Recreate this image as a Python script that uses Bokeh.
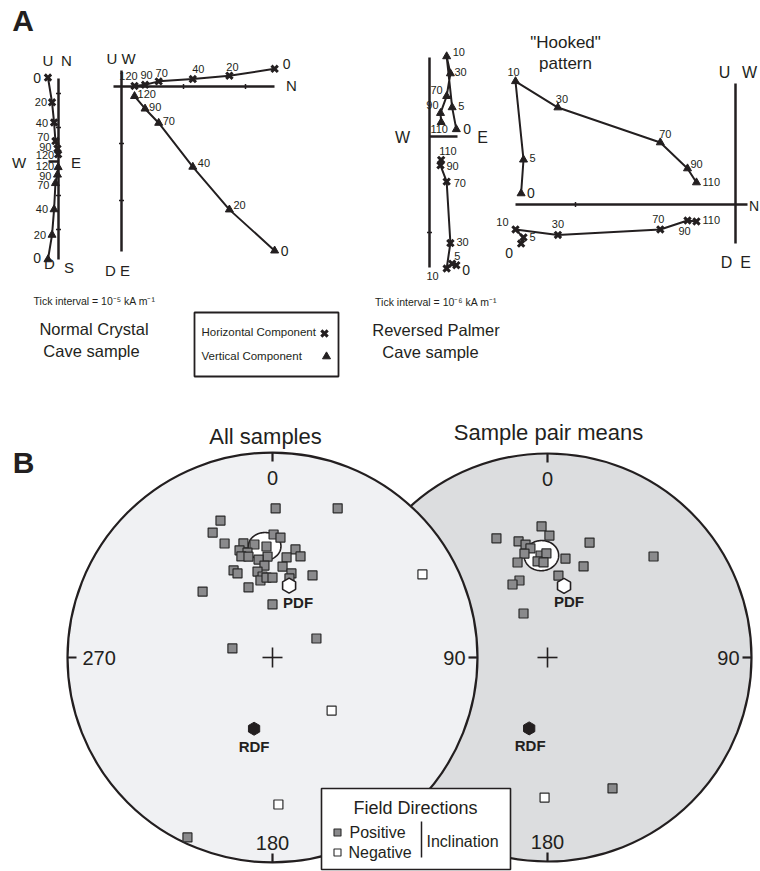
import numpy as np
from bokeh.plotting import figure
from bokeh.models import Range1d
from bokeh.core.properties import value
from bokeh.embed import file_html
from bokeh.resources import INLINE

# ------------------------------------------------------------------ DATA
# Normal Crystal Cave sample: AF steps (mT) and NRM components (tick units, 1e-5 kA/m)
crystal_steps = ["0", "20", "40", "70", "90", "120"]
crystal_north = [2.47, 1.74, 1.15, 0.60, 0.38, 0.21]
crystal_east = [-0.31, -0.19, -0.13, -0.09, -0.03, -0.01]
crystal_up = [-2.88, -2.16, -1.41, -0.64, -0.39, -0.17]

# Reversed Palmer Cave sample (tick units, 1e-6 kA/m)
palmer_steps = ["0", "5", "10", "30", "70", "90", "110"]
palmer_north = [-1.34, -1.325, -1.375, -1.11, -0.47, -0.30, -0.244]
palmer_east = [0.244, 0.206, 0.156, 0.19, 0.156, 0.10, 0.106]
palmer_up = [0.069, 0.28, 0.77, 0.606, 0.3875, 0.225, 0.1375]

# Field directions, all samples (declination, inclination in degrees)
all_pos_dec = [1.2, 23.6, 339.2, 334.4, 337.2, 345.7, 350.9, 342.9, 346.6, 342.9, 346.6,
               0.5, 3.8, 356.9, 357.2, 351.9, 12.0, 15.5, 8.0, 6.3, 355.0, 335.9, 337.4,
               350.1, 353.0, 351.1, 355.7, 0.0, 12.7, 12.1, 26.0, 341.1, 313.3, 0.0,
               282.7, 66.6, 205.3]
all_pos_inc = [28.1, 21.7, 29.3, 32.9, 39.5, 42.1, 43.5, 44.5, 46.3, 47.2, 48.1,
               39.8, 41.0, 44.9, 49.2, 50.1, 45.2, 47.6, 49.2, 53.2, 52.9, 51.6, 53.4,
               55.0, 57.3, 58.8, 57.9, 58.0, 55.4, 57.6, 53.3, 60.4, 51.3, 68.9,
               73.7, 71.0, 3.3]
all_neg_dec = [61.0, 131.9, 177.7]
all_neg_inc = [-17.5, -58.2, -29.0]
all_mean = (355.9, 44.8, 6.0)          # dec, inc, a95

# Sample pair means
pair_pos_dec = [357.4, 0.9, 336.8, 346.0, 349.0, 351.1, 347.5, 342.5, 356.1, 359.4, 354.1,
                357.6, 20.1, 10.3, 21.6, 46.4, 7.6, 340.0, 334.4, 331.4, 153.6]
pair_pos_inc = [35.9, 40.0, 36.6, 41.0, 43.0, 45.0, 46.7, 49.6, 48.5, 47.7, 50.9,
                51.5, 39.8, 49.2, 50.3, 29.0, 56.7, 57.0, 57.4, 70.0, 29.1]
pair_neg_dec = [181.2]
pair_neg_inc = [-31.9]
pair_mean = (356.6, 48.5, 6.4)

pdf_dir = (13.0, 60.5)      # present dipole field
rdf_dir = (194.5, -60.6)    # reversed dipole field

# ------------------------------------------------------------------ FIGURE
W, H = 760, 871
p = figure(width=W, height=H, x_range=Range1d(0, W), y_range=Range1d(H, 0),
           output_backend="svg", toolbar_location=None, min_border=0,
           x_axis_type=None, y_axis_type=None)
p.grid.visible = False
p.outline_line_color = None
p.background_fill_color = "white"
p.border_fill_color = "white"

INK = "#231f20"
SANS = "Liberation Sans, Arial, sans-serif"


def label(x, y, s, size, align="center", bold=False, baseline="middle"):
    p.text(x=[x], y=[y], text=[s], text_font=value(SANS), text_font_size=f"{size}px",
           text_align=align, text_baseline=baseline,
           text_font_style="bold" if bold else "normal", text_color=INK)


def seg(x0, y0, x1, y1, w=2.5):
    p.segment(x0=[x0], y0=[y0], x1=[x1], y1=[y1], line_color=INK, line_width=w)


def zmarkers(xh, yh, xv, yv):
    p.scatter(xh, yh, marker="x", size=9, line_color=INK, line_width=3)
    p.scatter(xv, yv, marker="triangle", size=8, fill_color=INK, line_color=INK)


def zijderveld(xh, yh, xv, yv, steps, offs_h, offs_v):
    p.line(xh, yh, line_color=INK, line_width=2)
    p.line(xv, yv, line_color=INK, line_width=2)
    zmarkers(xh, yh, xv, yv)
    for xs, ys, offs in ((xh, yh, offs_h), (xv, yv, offs_v)):
        for xi, yi, st, (dx, dy, al) in zip(xs, ys, steps, offs):
            label(xi + dx, yi + dy, st, 14 if st == "0" else 11, align=al)


# ------------------------------------------------------------------ PANEL A
label(22.5, 20, "A", 30, bold=True)

cn, ce, cu = map(np.array, (crystal_north, crystal_east, crystal_up))
pn, pe, pu = map(np.array, (palmer_north, palmer_east, palmer_up))

# plot 1: E horizontal, N / Up vertical
ox, oy, s = 58, 161, 34
seg(ox, 78, ox, 259)
seg(48, oy, ox, oy)
for t in (-2, -1, 1, 2):
    seg(ox - 2.5, oy - t * s, ox + 2.5, oy - t * s, 1.5)
zijderveld(ox + ce * s, oy - cn * s, ox + ce * s, oy - cu * s, crystal_steps,
           [(-7, 0, "right"), (-5, 0, "right"), (-6, 1, "right"), (-6, -4, "right"),
            (-6, -2, "right"), (-4, 1, "right")],
           [(-7, -1, "right"), (-6, 0, "right"), (-6, 0, "right"), (-6, 2, "right"),
            (-6, 1, "right"), (-4, -1, "right")])
for x, y, s_ in ((47.5, 60, "U"), (66, 60, "N"), (18.5, 162, "W"), (75.5, 162, "E"),
                 (49, 263, "D"), (68.5, 267, "S")):
    label(x, y, s_, 15)

# plot 2: N horizontal, W / Up vertical
ox, oy, sx, sy = 121, 86, 62, 57
seg(ox, 70, ox, 251)
seg(113, oy, 274, oy)
for t in (1, 2):
    seg(ox + t * sx, oy - 2.5, ox + t * sx, oy + 2.5, 1.5)
    seg(ox - 2.5, oy + t * sy, ox + 2.5, oy + t * sy, 1.5)
zijderveld(ox + cn * sx, oy + ce * sy, ox + cn * sx, oy - cu * sy, crystal_steps,
           [(8, -5, "left"), (3, -9, "center"), (5.5, -10, "center"), (3, -8, "center"),
            (1.5, -10, "center"), (-6, -10, "center")],
           [(6, 0, "left"), (4, -5, "left"), (5, -4, "left"), (4, -2, "left"),
            (4, -2, "left"), (3, -2, "left")])
label(120.5, 58, "U W", 15)
label(291, 85, "N", 15)
label(117, 270, "D E", 15)

# plot 3: E horizontal, N / Up vertical
ox, oy, sx, syh, syv = 429, 136, 110, 96, 104
seg(ox, 57, ox, 267)
seg(ox, oy, 457, oy)
seg(ox - 2.5, oy + syh, ox + 2.5, oy + syh, 1.5)
zijderveld(ox + pe * sx, oy - pn * syh, ox + pe * sx, oy - pu * syv, palmer_steps,
           [(6, 5, "left"), (2, -8, "left"), (-8, 7, "right"), (6, -1, "left"),
            (7, 1, "left"), (6, 1, "left"), (-2, -9, "left")],
           [(7, 0, "left"), (6, -1, "left"), (6, -4, "left"), (4, -1, "left"),
            (-4, -6, "right"), (-2, -8, "right"), (-2, 7, "center")])
label(402, 137, "W", 16)
label(482, 137, "E", 16)

# plot 4: N horizontal, W / Up vertical
ox, oy, s = 735, 204, 160
seg(ox, 83, ox, 243)
seg(515, oy, 747, oy)
seg(ox - s, oy - 2.5, ox - s, oy + 2.5, 1.5)
zijderveld(ox + pn * s, oy + pe * s, ox + pn * s, oy - pu * s, palmer_steps,
           [(-8, 9, "right"), (6, 0, "left"), (-7, -7, "right"), (0, -11, "center"),
            (-2, -10, "center"), (-3, 10, "center"), (6, -1, "left")],
           [(6, 0, "left"), (6, -2, "left"), (-2, -9, "center"), (4, -9, "center"),
            (5, -9, "center"), (3, -5, "left"), (6, -1, "left")])
label(724, 72, "U", 16)
label(749, 72, "W", 16)
label(726, 262, "D", 16)
label(745, 262, "E", 16)
label(748.5, 205, "N", 14, align="left")
label(565, 42, "\"Hooked\"", 17)
label(565, 63, "pattern", 17)

# captions
label(94, 300, "Tick interval = 10\u207b\u2075 kA m\u207b\u00b9", 10.5)
label(93.5, 328, "Normal Crystal", 16.5)
label(91, 350, "Cave sample", 16.5)
label(435.5, 301, "Tick interval = 10\u207b\u2076 kA m\u207b\u00b9", 10.5)
label(435.5, 329, "Reversed Palmer", 16.5)
label(430, 351, "Cave sample", 16.5)

# legend box A
p.quad(left=[194], right=[338], top=[312], bottom=[376], fill_color="white",
       line_color=INK, line_width=1.8)
label(201, 331, "Horizontal Component", 11.5, align="left")
label(201, 355, "Vertical Component", 11.5, align="left")
zmarkers([324], [333], [326], [356])

# ------------------------------------------------------------------ PANEL B
label(23, 462, "B", 30, bold=True)


def eqarea(dec, inc, cx, cy, R):
    d = np.radians(np.asarray(dec, float))
    i = np.radians(np.abs(np.asarray(inc, float)))
    rn = np.sqrt(2) * np.sin((np.pi / 2 - i) / 2)
    return cx + R * rn * np.sin(d), cy - R * rn * np.cos(d)


def cone(dec, inc, a95, n=120):
    D, I, a = np.radians([dec, inc, a95])
    m = np.array([np.cos(I) * np.cos(D), np.cos(I) * np.sin(D), np.sin(I)])
    u = np.array([-np.sin(I) * np.cos(D), -np.sin(I) * np.sin(D), np.cos(I)])
    v = np.cross(m, u)
    t = np.linspace(0, 2 * np.pi, n)
    pts = np.cos(a) * m[:, None] + np.sin(a) * (np.cos(t) * u[:, None] + np.sin(t) * v[:, None])
    return (np.degrees(np.arctan2(pts[1], pts[0])),
            np.degrees(np.arcsin(np.clip(pts[2], -1, 1))))


def net_frame(cx, cy, R, fill, left_tick):
    p.circle(x=[cx], y=[cy], radius=R, fill_color=fill, line_color=INK, line_width=2.2)
    seg(cx, cy - R, cx, cy - R + 9, 2.2)
    seg(cx + R, cy, cx + R - 9, cy, 2.2)
    seg(cx, cy + R, cx, cy + R - 9, 2.2)
    label(cx, cy - R + 25, "0", 20)
    label(cx + R - 12, cy, "90", 20, align="right")
    label(cx, cy + R - 20, "180", 20)
    if left_tick:
        seg(cx - R, cy, cx - R + 9, cy, 2.2)
        label(cx - R + 15, cy, "270", 20, align="left")
    seg(cx - 10, cy, cx + 10, cy, 1.6)
    seg(cx, cy - 10, cx, cy + 10, 1.6)


def net_data(cx, cy, R, pos_dec, pos_inc, neg_dec, neg_inc, mean, pdf_off, rdf_off):
    md, mi = cone(*mean)
    mx, my = eqarea(md, mi, cx, cy, R)
    p.patch(mx, my, fill_color="white", line_color=INK, line_width=1.6)
    x, y = eqarea(pos_dec, pos_inc, cx, cy, R)
    p.scatter(x, y, marker="square", size=9, fill_color="#8a8a8c", line_color="#2a2a2a",
              line_width=1.2)
    x, y = eqarea(neg_dec, neg_inc, cx, cy, R)
    p.scatter(x, y, marker="square", size=9, fill_color="white", line_color="#2a2a2a",
              line_width=1.2)
    px_, py_ = eqarea([pdf_dir[0]], [pdf_dir[1]], cx, cy, R)
    p.scatter(px_, py_, marker="hex", angle=np.pi / 2, size=15, fill_color="white",
              line_color=INK, line_width=1.6)
    label(px_[0] + pdf_off[0], py_[0] + pdf_off[1], "PDF", 15, bold=True)
    rx, ry = eqarea([rdf_dir[0]], [rdf_dir[1]], cx, cy, R)
    p.scatter(rx, ry, marker="hex", angle=np.pi / 2, size=13, fill_color=INK,
              line_color=INK, line_width=1)
    label(rx[0] + rdf_off[0], ry[0] + rdf_off[1], "RDF", 15, bold=True)


# right net (behind)
net_frame(547, 657, 204, "#dcdddf", False)
net_data(547, 657, 204, pair_pos_dec, pair_pos_inc, pair_neg_dec, pair_neg_inc,
         pair_mean, (5, 16), (1, 17))
# left net (front)
net_frame(272, 657, 205, "#f0f1f3", True)
net_data(272, 657, 205, all_pos_dec, all_pos_inc, all_neg_dec, all_neg_inc,
         all_mean, (9, 17), (0, 18))

label(265, 436, "All samples", 22)
label(548, 432, "Sample pair means", 22)

# legend box B
p.quad(left=[321], right=[510], top=[788], bottom=[869], fill_color="white",
       line_color=INK, line_width=1.6)
label(415, 807, "Field Directions", 18)
p.scatter([337], [832], marker="square", size=7, fill_color="#8a8a8c", line_color="#2a2a2a",
          line_width=1.1)
p.scatter([337], [852], marker="square", size=7, fill_color="white", line_color="#2a2a2a",
          line_width=1.1)
label(349, 832, "Positive", 16, align="left")
label(348, 852, "Negative", 16, align="left")
seg(421, 821, 421, 857, 1.5)
label(426, 841, "Inclination", 16, align="left")

open("out.html", "w").write(file_html(p, INLINE))
